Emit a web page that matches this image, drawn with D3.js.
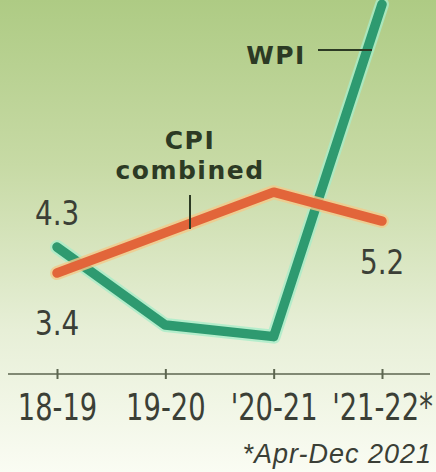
<!DOCTYPE html>
<html><head><meta charset="utf-8">
<script src="https://cdn.jsdelivr.net/npm/d3@7"></script>
<style>
html,body{margin:0;padding:0;background:#fff;}
svg{display:block;}
</style></head>
<body>
<script>
const categories = ["18-19", "19-20", "20-21", "21-22"];
const tickLabels = ["18-19", "19-20", "'20-21", "'21-22*"];
const wpi = [4.3, 1.6, 1.2, 12.7];
const cpi = [3.4, 4.8, 6.2, 5.2];
const footnote = "*Apr-Dec 2021";

const W = 436, H = 472;
const svg = d3.select("body").append("svg").attr("width", W).attr("height", H);
const defs = svg.append("defs");
const grad = defs.append("linearGradient").attr("id","bg").attr("x1",0).attr("y1",0).attr("x2",0).attr("y2",1);
grad.append("stop").attr("offset","0%").attr("stop-color","#aecb84");
grad.append("stop").attr("offset","35%").attr("stop-color","#c7daa5");
grad.append("stop").attr("offset","70%").attr("stop-color","#e7efd7");
grad.append("stop").attr("offset","100%").attr("stop-color","#fafcf3");
svg.append("rect").attr("width",W).attr("height",H).attr("fill","url(#bg)");

const x = d3.scalePoint().domain(categories).range([57, 382]);
const y = d3.scaleLinear().domain([0, 12.85]).range([371.3, 0]);

const num = "'DejaVu Sans',sans-serif";
const txt = "#3b3f36";

// axis
const axisY = 374;
const axis = d3.axisBottom(x).tickSize(0).tickFormat((d,i)=>tickLabels[i]);
const ag = svg.append("g").attr("transform",`translate(0,${axisY})`).call(axis);
ag.select(".domain").remove();
ag.append("line").attr("x1",8).attr("x2",430).attr("y1",0).attr("y2",0)
  .attr("stroke","#5d6650").attr("stroke-width",1.6);
ag.selectAll(".tick").append("line").attr("y1",-5).attr("y2",5)
  .attr("stroke","#5d6650").attr("stroke-width",2);
ag.selectAll(".tick text").attr("y",0).attr("dy",0)
  .attr("font-family",num).attr("font-size",38).attr("fill",txt)
  .attr("transform","translate(0,46) scale(0.72,1)");

// lines
const line = d3.line().x((d,i)=>x(categories[i])).y(d=>y(d));
function drawLine(data, halo, color){
  svg.append("path").datum(data).attr("d",line).attr("fill","none")
    .attr("stroke",halo).attr("stroke-width",14).attr("stroke-linejoin","round").attr("stroke-linecap","round").attr("opacity",0.8);
  svg.append("path").datum(data).attr("d",line).attr("fill","none")
    .attr("stroke",color).attr("stroke-width",9.5).attr("stroke-linejoin","round").attr("stroke-linecap","round");
}
drawLine(wpi, "#a8ecc8", "#2e9a70");
drawLine(cpi, "#f3c98a", "#e2653a");

// value labels
function lab(t, xx, yy){
  svg.append("text").attr("transform",`translate(${xx},${yy}) scale(0.82,1)`)
    .attr("font-family",num).attr("font-size",34).attr("fill",txt).text(t);
}
lab(wpi[0].toFixed(1), x(categories[0]) - 22, y(wpi[0]) - 22);
lab(cpi[0].toFixed(1), x(categories[0]) - 22, y(cpi[0]) + 62);
lab(cpi[3].toFixed(1), x(categories[3]) - 22, y(cpi[3]) + 53);

// series labels
const bold = "'DejaVu Sans','Verdana',sans-serif";
function blab(t, xx, yy){
  svg.append("text").attr("x",xx).attr("y",yy).attr("text-anchor","middle")
    .attr("font-family",bold).attr("font-weight","bold").attr("font-size",25)
    .attr("letter-spacing",1.5).attr("fill","#2c3a24").text(t);
}
blab("WPI", 276, 64);
svg.append("line").attr("x1",318).attr("x2",372).attr("y1",50).attr("y2",50)
  .attr("stroke","#2c3a24").attr("stroke-width",2);
blab("CPI", 190, 149);
blab("combined", 190, 179);
svg.append("line").attr("x1",190).attr("x2",190).attr("y1",195).attr("y2",229)
  .attr("stroke","#2c3a24").attr("stroke-width",2);

// footnote
svg.append("text").attr("x",432).attr("y",463).attr("text-anchor","end")
  .attr("font-family","'Liberation Sans','DejaVu Sans',sans-serif").attr("font-style","italic")
  .attr("font-size",27).attr("letter-spacing",1).attr("fill",txt).text(footnote);
</script>
</body></html>
